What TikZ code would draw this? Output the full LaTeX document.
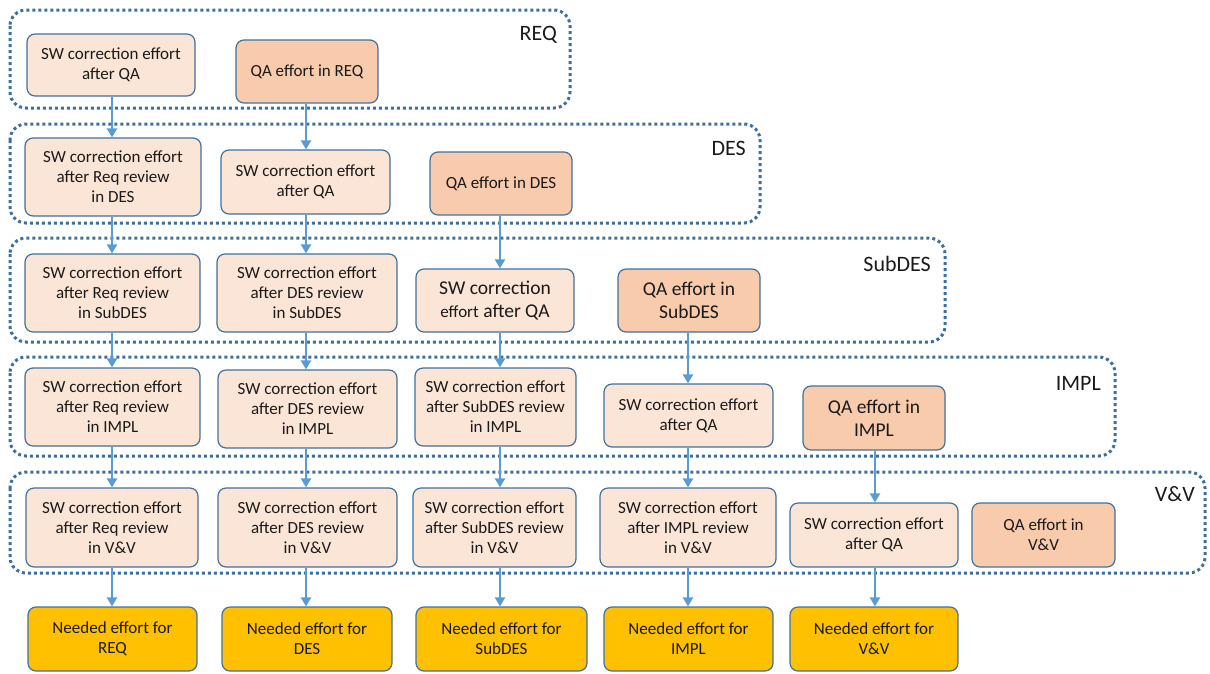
\documentclass[tikz,border=0pt]{standalone}
\usepackage{fontspec}
\setmainfont{Carlito}
\usetikzlibrary{arrows.meta}
\definecolor{lightfill}{HTML}{FBE5D6}
\definecolor{qafill}{HTML}{F8CBAD}
\definecolor{needfill}{HTML}{FFC000}
\definecolor{boxline}{HTML}{41719C}
\definecolor{stageline}{HTML}{3E6E9E}
\definecolor{arrowblue}{HTML}{5B9BD5}
\definecolor{txt}{HTML}{1A1A1A}
\newcommand{\largetxt}{\fontsize{19.5}{23}\selectfont}
\tikzset{
  box/.style={draw=boxline, line width=1.2pt, rounded corners=8pt, align=center,
    font=\fontsize{17}{20}\selectfont, text=txt, inner sep=0pt},
  light/.style={box, fill=lightfill},
  qa/.style={box, fill=qafill},
  need/.style={box, fill=needfill},
  stage/.style={draw=stageline, line width=3pt, dash pattern=on 3pt off 3pt, rounded corners=16pt},
  stagelabel/.style={anchor=east, font=\fontsize{22}{24}\selectfont, text=txt, inner sep=0pt},
  flow/.style={draw=arrowblue, line width=2.8pt, -{Triangle[length=9pt,width=10pt]}},
  sz/.style 2 args={minimum width=#1pt, minimum height=#2pt}
}
\begin{document}
\begin{tikzpicture}[x=1pt, y=-1pt]
\useasboundingbox (0,0) rectangle (1210,673);

% stage frames
\draw[stage] (10,10) rectangle (570,108);
\draw[stage] (10,124) rectangle (760,223);
\draw[stage] (10,238) rectangle (945,342);
\draw[stage] (10,357) rectangle (1115,456);
\draw[stage] (10,472) rectangle (1205,573);
\node[stagelabel] (lreq) at (557,35) {REQ};
\node[stagelabel] (ldes) at (746,148) {DES};
\node[stagelabel] (lsub) at (931,264) {SubDES};
\node[stagelabel] (limp) at (1101,383) {IMPL};
\node[stagelabel] (lvv) at (1195,494) {V\&V};

% REQ
\node[light, sz={168}{62}] (A1) at (111,65) {SW correction effort\\after QA};
\node[qa, sz={142}{63}] (A2) at (307,71.5) {QA effort in REQ};
% DES
\node[light, sz={176}{78}] (B1) at (113,177) {SW correction effort\\after Req review\\in DES};
\node[light, sz={169}{64}] (B2) at (305.5,182) {SW correction effort\\after QA};
\node[qa, sz={142}{63}] (B3) at (501,183.5) {QA effort in DES};
% SubDES
\node[light, sz={175}{78}] (C1) at (112.5,293) {SW correction effort\\after Req review\\in SubDES};
\node[light, sz={180}{78}] (C2) at (307,293) {SW correction effort\\after DES review\\in SubDES};
\node[light, sz={158}{63}, font=\largetxt] (C3) at (495,300.5) {SW correction\\{\fontsize{17}{23}\selectfont effort} after QA};
\node[qa, sz={142}{63}, font=\largetxt] (C4) at (689,300.5) {QA effort in\\SubDES};
% IMPL
\node[light, sz={175}{78}] (D1) at (112.5,407) {SW correction effort\\after Req review\\in IMPL};
\node[light, sz={179}{78}] (D2) at (307.5,409) {SW correction effort\\after DES review\\in IMPL};
\node[light, sz={161}{78}] (D3) at (495.5,407) {SW correction effort\\after SubDES review\\in IMPL};
\node[light, sz={169}{63}] (D4) at (688.5,415.5) {SW correction effort\\after QA};
\node[qa, sz={142}{64}, font=\largetxt] (D5) at (874,418) {QA effort in\\IMPL};
% V&V
\node[light, sz={172}{79}] (E1) at (112,527.5) {SW correction effort\\after Req review\\in V\&V};
\node[light, sz={179}{79}] (E2) at (307.5,527.5) {SW correction effort\\after DES review\\in V\&V};
\node[light, sz={163}{79}] (E3) at (494.5,527.5) {SW correction effort\\after SubDES review\\in V\&V};
\node[light, sz={176}{79}] (E4) at (688,527.5) {SW correction effort\\after IMPL review\\in V\&V};
\node[light, sz={168}{64}] (E5) at (874,535) {SW correction effort\\after QA};
\node[qa, sz={143}{64}] (E6) at (1043.5,535) {QA effort in\\V\&V};
% totals
\node[need, sz={169}{64}] (F1) at (112.5,639) {Needed effort for\\REQ};
\node[need, sz={170}{64}] (F2) at (307,639) {Needed effort for\\DES};
\node[need, sz={171}{64}] (F3) at (501.5,639) {Needed effort for\\SubDES};
\node[need, sz={169}{64}] (F4) at (688.5,639) {Needed effort for\\IMPL};
\node[need, sz={168}{64}] (F5) at (874,639) {Needed effort for\\V\&V};

% flow columns
\coordinate (k1) at (112,0);
\coordinate (k2) at (306,0);
\coordinate (k3) at (500,0);
\coordinate (k4) at (688,0);
\coordinate (k5) at (875,0);

\draw[flow] (A1.south -| k1) -- (B1.north -| k1);
\draw[flow] (B1.south -| k1) -- (C1.north -| k1);
\draw[flow] (C1.south -| k1) -- (D1.north -| k1);
\draw[flow] (D1.south -| k1) -- (E1.north -| k1);
\draw[flow] (E1.south -| k1) -- (F1.north -| k1);

\draw[flow] (A2.south -| k2) -- (B2.north -| k2);
\draw[flow] (B2.south -| k2) -- (C2.north -| k2);
\draw[flow] (C2.south -| k2) -- (D2.north -| k2);
\draw[flow] (D2.south -| k2) -- (E2.north -| k2);
\draw[flow] (E2.south -| k2) -- (F2.north -| k2);

\draw[flow] (B3.south -| k3) -- (C3.north -| k3);
\draw[flow] (C3.south -| k3) -- (D3.north -| k3);
\draw[flow] (D3.south -| k3) -- (E3.north -| k3);
\draw[flow] (E3.south -| k3) -- (F3.north -| k3);

\draw[flow] (C4.south -| k4) -- (D4.north -| k4);
\draw[flow] (D4.south -| k4) -- (E4.north -| k4);
\draw[flow] (E4.south -| k4) -- (F4.north -| k4);

\draw[flow] (D5.south -| k5) -- (E5.north -| k5);
\draw[flow] (E5.south -| k5) -- (F5.north -| k5);
\end{tikzpicture}
\end{document}
